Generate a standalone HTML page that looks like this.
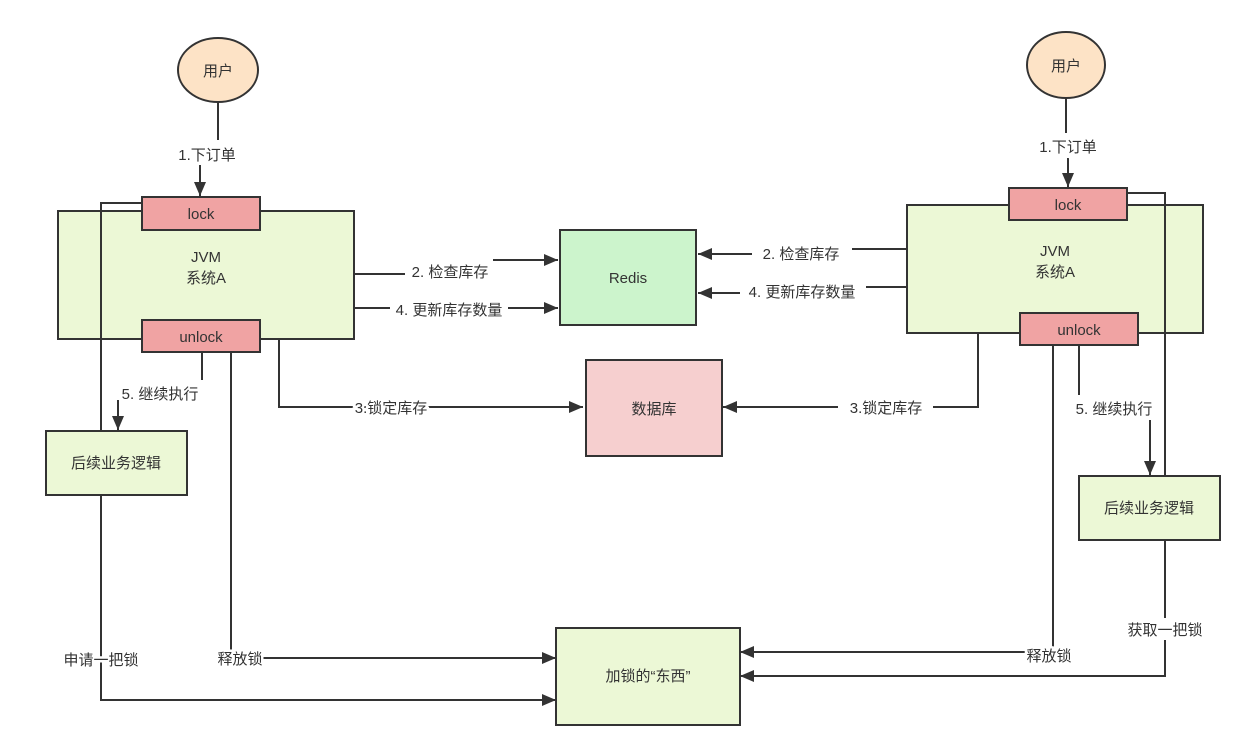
<!DOCTYPE html>
<html><head><meta charset="utf-8"><style>
body{margin:0;background:#fff;}
svg text{font-family:"Liberation Sans","Noto Sans CJK SC",sans-serif;font-size:15px;fill:#333;}
.l text{paint-order:stroke;stroke:#fff;stroke-width:5px;}
</style></head><body>
<svg width="1250" height="748" viewBox="0 0 1250 748" xmlns="http://www.w3.org/2000/svg">
<defs>
<marker id="b" viewBox="0 0 14 12" markerWidth="14" markerHeight="12" refX="14" refY="6" orient="auto" markerUnits="userSpaceOnUse"><path d="M0,0 L14,6 L0,12 z" fill="#333"/></marker></defs>
<g stroke="#333" stroke-width="2" fill="none">
<ellipse cx="218" cy="70" rx="40" ry="32" fill="#fde3c6"/>
<line x1="218" y1="102" x2="218" y2="140"/>
<line x1="200" y1="165" x2="200" y2="196" marker-end="url(#b)"/>
<rect x="58" y="211" width="296" height="128" fill="#ecf8d6"/>
<polyline points="142,203 101,203 101,700 556,700" marker-end="url(#b)"/>
<rect x="142" y="197" width="118" height="33" fill="#f0a3a3"/>
<rect x="142" y="320" width="118" height="32" fill="#f0a3a3"/>
<line x1="202" y1="352" x2="202" y2="380"/>
<line x1="118" y1="400" x2="118" y2="430" marker-end="url(#b)"/>
<rect x="46" y="431" width="141" height="64" fill="#ecf8d6"/>
<polyline points="231,352 231,658 556,658" marker-end="url(#b)"/>
<polyline points="279,339 279,407 583,407" marker-end="url(#b)"/>
<polyline points="354,274 405,274"/>
<line x1="493" y1="260" x2="558" y2="260" marker-end="url(#b)"/>
<line x1="354" y1="308" x2="390" y2="308"/>
<line x1="508" y1="308" x2="558" y2="308" marker-end="url(#b)"/>
<rect x="560" y="230" width="136" height="95" fill="#ccf4cc"/>
<rect x="586" y="360" width="136" height="96" fill="#f6cfcf"/>
<rect x="556" y="628" width="184" height="97" fill="#ecf8d6"/>
<ellipse cx="1066" cy="65" rx="39" ry="33" fill="#fde3c6"/>
<line x1="1066" y1="98" x2="1066" y2="133"/>
<line x1="1068" y1="158" x2="1068" y2="187" marker-end="url(#b)"/>
<rect x="907" y="205" width="296" height="128" fill="#ecf8d6"/>
<polyline points="1127,193 1165,193 1165,618"/>
<polyline points="1165,640 1165,676 740,676" marker-end="url(#b)"/>
<rect x="1009" y="188" width="118" height="32" fill="#f0a3a3"/>
<rect x="1020" y="313" width="118" height="32" fill="#f0a3a3"/>
<polyline points="978,333 978,407 933,407"/>
<line x1="838" y1="407" x2="723" y2="407" marker-end="url(#b)"/>
<polyline points="1053,345 1053,652 1022,652"/>
<line x1="1022" y1="652" x2="740" y2="652" marker-end="url(#b)"/>
<line x1="1079" y1="345" x2="1079" y2="395"/>
<line x1="1150" y1="420" x2="1150" y2="475" marker-end="url(#b)"/>
<rect x="1079" y="476" width="141" height="64" fill="#ecf8d6"/>
<line x1="907" y1="249" x2="852" y2="249"/>
<line x1="752" y1="254" x2="698" y2="254" marker-end="url(#b)"/>
<line x1="907" y1="287" x2="866" y2="287"/>
<line x1="740" y1="293" x2="698" y2="293" marker-end="url(#b)"/>
</g>
<g text-anchor="middle">
<text x="218" y="76">用户</text>
<text x="1066" y="71">用户</text>
<text x="201" y="219">lock</text>
<text x="201" y="342">unlock</text>
<text x="1068" y="210">lock</text>
<text x="1079" y="335">unlock</text>
<text x="206" y="262">JVM</text>
<text x="206" y="283">系统A</text>
<text x="1055" y="256">JVM</text>
<text x="1055" y="277">系统A</text>
<text x="628" y="283">Redis</text>
<text x="654" y="414">数据库</text>
<text x="648" y="681">加锁的“东西”</text>
<text x="116" y="468">后续业务逻辑</text>
<text x="1149" y="513">后续业务逻辑</text>
</g>
<g text-anchor="middle" class="l">
<text x="207" y="160">1.下订单</text>
<text x="1068" y="152">1.下订单</text>
<text x="450" y="277">2. 检查库存</text>
<text x="449" y="315">4. 更新库存数量</text>
<text x="801" y="259">2. 检查库存</text>
<text x="802" y="297">4. 更新库存数量</text>
<text x="391" y="413">3.锁定库存</text>
<text x="886" y="413">3.锁定库存</text>
<text x="160" y="399">5. 继续执行</text>
<text x="1114" y="414">5. 继续执行</text>
<text x="101" y="665">申请一把锁</text>
<text x="240" y="664">释放锁</text>
<text x="1049" y="661">释放锁</text>
<text x="1165" y="635">获取一把锁</text>
</g>
</svg>
</body></html>
